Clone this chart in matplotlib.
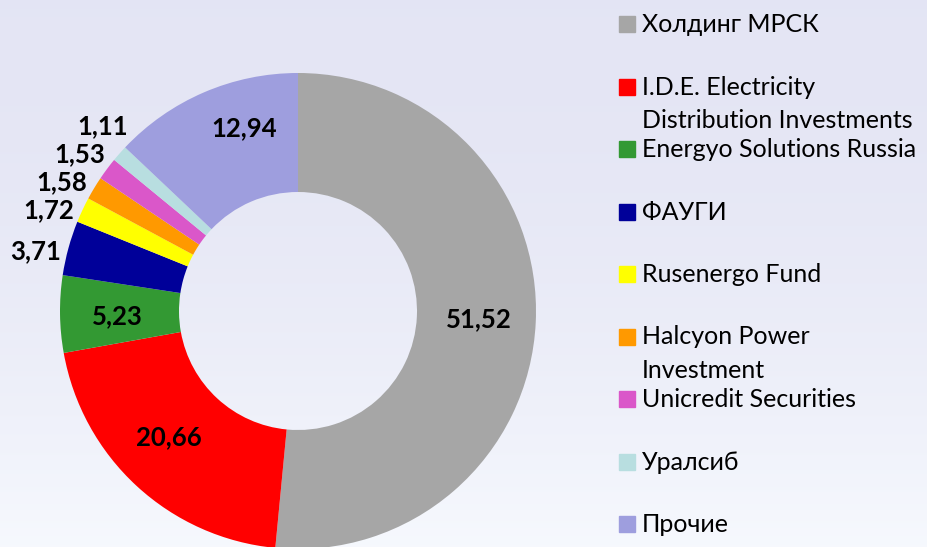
import numpy as np
import matplotlib.pyplot as plt
from matplotlib.patches import Rectangle

plt.rcParams['font.family'] = ['Lato', 'DejaVu Sans']

# shareholders and their stakes, %
holders = ['Холдинг МРСК', 'I.D.E. Electricity\nDistribution Investments',
           'Energyo Solutions Russia', 'ФАУГИ', 'Rusenergo Fund',
           'Halcyon Power\nInvestment', 'Unicredit Securities', 'Уралсиб', 'Прочие']
stakes = [51.52, 20.66, 5.23, 3.71, 1.72, 1.58, 1.53, 1.11, 12.94]
colors = ['#A6A6A6', '#FF0000', '#339933', '#000099', '#FFFF00',
          '#FF9900', '#DA57C9', '#B8DEE0', '#9E9EDE']

fig = plt.figure(figsize=(9.27, 5.47), dpi=100)

# soft background gradient
bg = fig.add_axes([0, 0, 1, 1])
grad = np.linspace(0, 1, 256).reshape(-1, 1)
top = np.array([0.894, 0.898, 0.957])
bot = np.array([0.965, 0.975, 0.995])
img = top + (bot - top) * grad[..., None] ** 1.8
bg.imshow(img, aspect='auto', extent=[0, 1, 0, 1], origin='upper')
bg.axis('off')

# donut
ax = fig.add_axes([60 / 927, -2 / 547, 476 / 927, 476 / 547])
wedges, _ = ax.pie(stakes, colors=colors, startangle=90, counterclock=False,
                   radius=1, wedgeprops=dict(width=0.5, linewidth=0))
ax.set_xlim(-1, 1)
ax.set_ylim(-1, 1)
ax.set_aspect('equal')
ax.axis('off')

# label placement: radius and small angle nudges (degrees)
nudge = {0: 0, 1: -3, 2: 1, 3: 2.4, 4: 3.1, 5: 2.5, 6: 1.0, 7: -2.1, 8: -7}
for i, (w, v) in enumerate(zip(wedges, stakes)):
    mid = np.deg2rad((w.theta1 + w.theta2) / 2 + nudge[i])
    r = 0.76 if v >= 5 else 1.13
    if i == 8:
        r = 0.80
    ax.text(r * np.cos(mid), r * np.sin(mid), f'{v:.2f}'.replace('.', ','),
            ha='center', va='center', fontsize=18.5, fontweight='bold',
            color='black', clip_on=False)

# legend drawn by hand: fixed slot per entry, wrapped lines overflow
for i, (name, c) in enumerate(zip(holders, colors)):
    base = 1 - (32 + 62.5 * i) / 547
    fig.patches.append(Rectangle((619 / 927, base), 16 / 927, 16 / 547,
                                 transform=fig.transFigure, color=c))
    for k, line in enumerate(name.split('\n')):
        fig.text(642 / 927, base - k * 33 / 547, line, ha='left', va='baseline',
                 fontsize=18, color='black')

fig.savefig('out.png', dpi=100)
